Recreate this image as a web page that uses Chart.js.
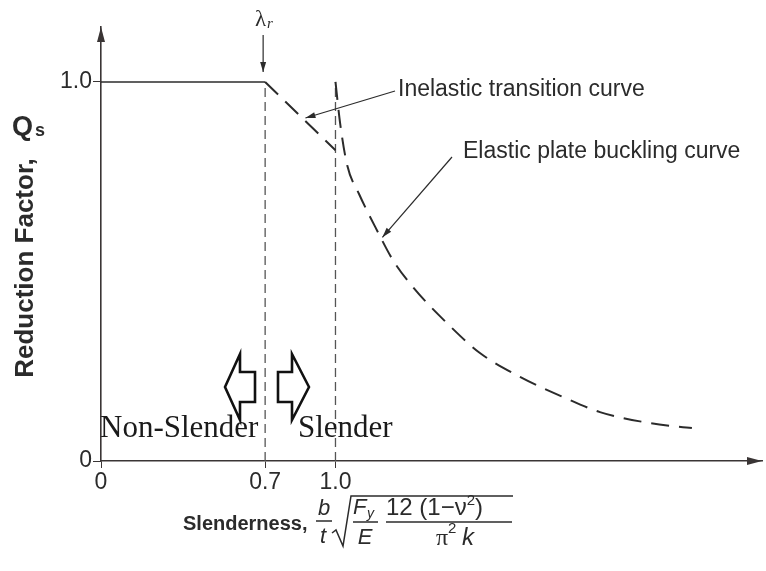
<!DOCTYPE html>
<html>
<head>
<meta charset="utf-8">
<title>Reduction factor Qs vs slenderness</title>
<script src="https://cdn.jsdelivr.net/npm/chart.js@4.4.1/dist/chart.umd.min.js"></script>
<style>
  body { margin: 0; background: #fff; }
  canvas { display: block; }
</style>
</head>
<body>
<canvas id="chart" width="766" height="571"></canvas>
<script>
// tick positions
const xTicks = [0, 0.7, 1.0];
const yTicks = [0, 1.0];

// flat part, Q = 1 up to lambda_r
const plateauX = [0, 0.7];
const plateauY = [1.0, 1.0];

// inelastic transition
const inelasticX = [0.7, 1.0];
const inelasticY = [1.0, 0.82];

// elastic plate buckling curve
const elasticX = [1.0, 1.02, 1.05, 1.10, 1.18, 1.245, 1.33, 1.475, 1.616, 1.787, 1.97, 2.128, 2.341, 2.52];
const elasticY = [1.0, 0.89, 0.78, 0.705, 0.605, 0.53, 0.459, 0.364, 0.285, 0.222, 0.169, 0.129, 0.100, 0.087];

// vertical limit lines
const limitX = [0.7, 1.0];
const limitTop = [1.0, 1.0];

const ink = '#2b2b2b';
const axisColor = '#3a3535';
const sans = '"Liberation Sans", Arial, sans-serif';
const serif = '"Liberation Serif", "Times New Roman", serif';

const pts = (xs, ys) => xs.map((x, i) => ({ x: x, y: ys[i] }));

const datasets = [
    { data: pts(plateauX, plateauY), borderColor: ink, borderWidth: 1.6 },
    { data: pts(inelasticX, inelasticY), borderColor: ink, borderWidth: 2, borderDash: [18, 10] },
    { data: pts(elasticX, elasticY), borderColor: ink, borderWidth: 2, borderDash: [18, 10], cubicInterpolationMode: 'monotone' }
];
limitX.forEach((x, i) => {
    datasets.push({ data: [{ x: x, y: 0 }, { x: x, y: limitTop[i] }], borderColor: '#555', borderWidth: 1.3, borderDash: [9, 5] });
});
datasets.forEach(d => { d.showLine = true; d.pointRadius = 0; d.fill = false; });

function head(ctx, x, y, ang, len, w) {
    ctx.save();
    ctx.translate(x, y);
    ctx.rotate(ang);
    ctx.beginPath();
    ctx.moveTo(0, 0);
    ctx.lineTo(-len, -w / 2);
    ctx.lineTo(-len, w / 2);
    ctx.closePath();
    ctx.fill();
    ctx.restore();
}

function leader(ctx, x1, y1, x2, y2) {
    ctx.beginPath();
    ctx.moveTo(x1, y1);
    ctx.lineTo(x2, y2);
    ctx.stroke();
    head(ctx, x2, y2, Math.atan2(y2 - y1, x2 - x1), 10, 6);
}

function bar(ctx, x1, x2, y) {
    ctx.beginPath();
    ctx.moveTo(x1, y);
    ctx.lineTo(x2, y);
    ctx.stroke();
}

const decorations = {
    id: 'decorations',
    afterDraw(chart) {
        const ctx = chart.ctx;
        const a = chart.chartArea;
        const sx = chart.scales.x, sy = chart.scales.y;
        ctx.save();
        ctx.fillStyle = ink;
        ctx.strokeStyle = ink;

        // axis arrows
        ctx.fillStyle = axisColor;
        head(ctx, a.left, a.top, -Math.PI / 2, 15, 8);
        head(ctx, a.right, a.bottom, 0, 15, 8);
        ctx.fillStyle = ink;

        // lambda_r marker
        const xr = sx.getPixelForValue(0.7);
        ctx.lineWidth = 1.2;
        leader(ctx, xr - 2, 35, xr - 2, 72);
        ctx.font = '23px ' + serif;
        ctx.textAlign = 'left';
        ctx.textBaseline = 'alphabetic';
        ctx.fillText('λ', 255, 26);
        ctx.font = 'italic 15px ' + serif;
        ctx.fillText('r', 267, 28);

        // callouts
        ctx.lineWidth = 1.2;
        leader(ctx, 395, 91, sx.getPixelForValue(0.872), sy.getPixelForValue(0.905));
        leader(ctx, 452, 157, sx.getPixelForValue(1.2), sy.getPixelForValue(0.59));
        ctx.font = '23px ' + sans;
        ctx.textBaseline = 'middle';
        ctx.fillText('Inelastic transition curve', 398, 90);
        ctx.fillText('Elastic plate buckling curve', 463, 152);

        // Qs and y title
        ctx.textBaseline = 'alphabetic';
        ctx.font = 'bold 27px ' + sans;
        ctx.fillText('Q', 12, 135);
        ctx.font = 'bold 18px ' + sans;
        ctx.fillText('s', 35, 136);
        ctx.save();
        ctx.translate(33, 268);
        ctx.rotate(-Math.PI / 2);
        ctx.textAlign = 'center';
        ctx.font = 'bold 26px ' + sans;
        ctx.fillText('Reduction Factor,', 0, 0);
        ctx.restore();

        // hollow arrows
        ctx.lineWidth = 2.6;
        ctx.lineJoin = 'miter';
        ctx.strokeStyle = '#111';
        ctx.beginPath();
        ctx.moveTo(225, 387); ctx.lineTo(240, 354); ctx.lineTo(240, 372); ctx.lineTo(255, 372);
        ctx.lineTo(255, 402); ctx.lineTo(240, 402); ctx.lineTo(240, 420); ctx.closePath();
        ctx.stroke();
        ctx.beginPath();
        ctx.moveTo(309, 387); ctx.lineTo(292, 354); ctx.lineTo(292, 372); ctx.lineTo(278, 372);
        ctx.lineTo(278, 402); ctx.lineTo(292, 402); ctx.lineTo(292, 420); ctx.closePath();
        ctx.stroke();

        ctx.fillStyle = '#1a1a1a';
        ctx.font = '31px ' + serif;
        ctx.fillText('Non-Slender', 100, 437);
        ctx.fillText('Slender', 298, 437);

        // x title with the slenderness formula
        ctx.fillStyle = ink;
        ctx.strokeStyle = ink;
        ctx.lineWidth = 1.5;
        ctx.font = 'bold 20px ' + sans;
        ctx.fillText('Slenderness,', 183, 530);
        ctx.textAlign = 'center';
        ctx.font = 'italic 22px ' + sans;
        ctx.fillText('b', 324, 515);
        ctx.fillText('t', 323, 543);
        bar(ctx, 316, 332, 521);
        ctx.beginPath();
        ctx.moveTo(332, 533); ctx.lineTo(336, 530); ctx.lineTo(343, 546);
        ctx.lineTo(351, 496); ctx.lineTo(513, 496);
        ctx.stroke();
        ctx.textAlign = 'left';
        ctx.fillText('F', 353, 514);
        ctx.font = 'italic 14px ' + sans;
        ctx.fillText('y', 367, 518);
        bar(ctx, 353, 378, 522);
        ctx.textAlign = 'center';
        ctx.font = 'italic 22px ' + sans;
        ctx.fillText('E', 365, 544);
        ctx.textAlign = 'left';
        ctx.font = '24px ' + sans;
        let x = 386;
        ctx.fillText('12 (1\u2212\u03bd', x, 515);
        x += ctx.measureText('12 (1\u2212\u03bd').width;
        ctx.font = '15px ' + sans;
        ctx.fillText('2', x, 505);
        x += ctx.measureText('2').width;
        ctx.font = '24px ' + sans;
        ctx.fillText(')', x, 515);
        bar(ctx, 386, 512, 522);
        ctx.font = '24px ' + serif;
        ctx.fillText('\u03c0', 436, 545);
        ctx.font = '15px ' + sans;
        ctx.fillText('2', 448, 533);
        ctx.font = 'italic 24px ' + sans;
        ctx.fillText('k', 462, 545);

        ctx.restore();
    }
};

new Chart(document.getElementById('chart'), {
    type: 'scatter',
    data: { datasets: datasets },
    options: {
        responsive: false,
        animation: false,
        layout: { padding: { top: 27, right: 4, left: 0, bottom: 0 } },
        plugins: { legend: { display: false }, tooltip: { enabled: false } },
        scales: {
            x: {
                type: 'linear',
                min: 0,
                max: 2.819,
                afterBuildTicks: s => { s.ticks = xTicks.map(v => ({ value: v })); },
                afterFit: s => { s.height = 110; },
                ticks: {
                    autoSkip: false,
                    maxRotation: 0,
                    padding: 1,
                    color: ink,
                    font: { family: sans, size: 23 },
                    callback: v => (v === 0 ? '0' : v.toFixed(1))
                },
                grid: { drawOnChartArea: false, tickLength: 7, color: axisColor },
                border: { color: axisColor, width: 1.6 }
            },
            y: {
                type: 'linear',
                min: 0,
                max: 1.145,
                afterBuildTicks: s => { s.ticks = yTicks.map(v => ({ value: v })); },
                afterFit: s => { s.width = 101; },
                ticks: {
                    autoSkip: false,
                    padding: 1,
                    color: ink,
                    font: { family: sans, size: 23 },
                    callback: v => (v === 0 ? '0' : v.toFixed(1))
                },
                grid: { drawOnChartArea: false, tickLength: 8, color: axisColor },
                border: { color: axisColor, width: 1.6 }
            }
        }
    },
    plugins: [decorations]
});
</script>
</body>
</html>
